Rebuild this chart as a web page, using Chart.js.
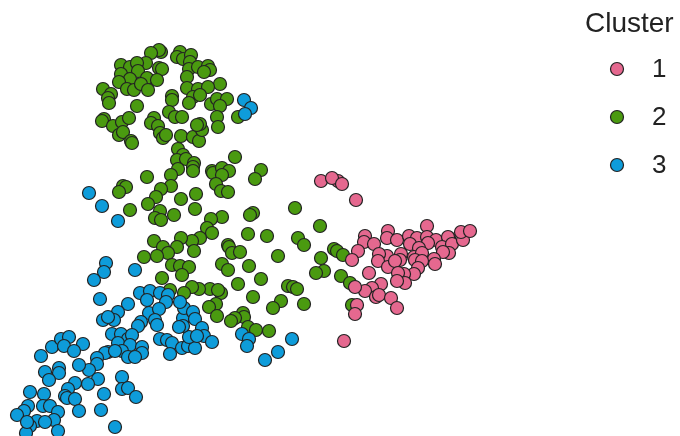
<!DOCTYPE html>
<html><head><meta charset="utf-8">
<style>html,body{margin:0;padding:0;background:#fff}canvas{display:block}</style>
<script src="https://cdn.jsdelivr.net/npm/chart.js@4"></script>
</head><body><canvas id="c" width="680" height="436"></canvas>
<script>
const clusterLabels = ['1','2','3'];
const legendTitle = 'Cluster';
const cluster1 = [[338,181],[321,181],[332,178],[342,184],[356,200],[365,236],[364,242],[374,244],[358,251],[352,260],[388,231],[387,238],[397,240],[409,236],[417,238],[410,244],[427,226],[427,237],[436,240],[428,243],[419,248],[449,238],[448,237],[442,247],[452,244],[463,240],[461,232],[470,231],[449,253],[443,252],[434,259],[435,264],[401,254],[400,260],[387,256],[379,254],[378,261],[388,267],[395,261],[414,257],[422,253],[415,260],[422,261],[418,268],[414,274],[404,274],[398,273],[405,283],[397,281],[369,273],[381,284],[372,288],[365,291],[355,287],[376,297],[379,295],[391,298],[397,308],[357,305],[355,314],[344,341]];
const cluster2 = [[161,52],[159,50],[151,53],[146,63],[121,65],[130,67],[137,63],[159,68],[162,69],[121,74],[138,71],[130,79],[147,78],[157,80],[119,82],[127,89],[134,90],[141,84],[148,90],[103,89],[111,94],[108,98],[109,103],[137,106],[104,119],[102,121],[113,126],[122,122],[129,118],[119,135],[123,132],[131,141],[132,143],[180,52],[177,57],[183,59],[191,55],[190,62],[189,69],[187,77],[198,67],[208,66],[210,70],[204,72],[220,84],[187,88],[198,89],[208,87],[193,97],[189,103],[200,95],[172,96],[172,100],[169,112],[175,117],[182,117],[211,104],[217,99],[227,99],[220,106],[217,117],[218,127],[238,117],[154,118],[151,123],[158,126],[160,133],[163,138],[166,135],[181,136],[193,137],[199,141],[202,130],[200,124],[197,125],[178,149],[183,155],[177,160],[186,159],[194,163],[193,167],[193,171],[178,169],[171,175],[147,177],[171,186],[161,189],[156,197],[148,204],[181,199],[196,194],[195,209],[174,215],[160,211],[155,218],[161,220],[130,210],[123,186],[126,187],[119,192],[235,157],[212,171],[213,173],[222,168],[229,171],[222,175],[216,184],[221,191],[228,192],[261,170],[255,179],[253,213],[250,215],[222,217],[211,219],[207,228],[212,233],[200,238],[192,241],[181,238],[177,247],[194,251],[154,241],[163,247],[168,253],[157,256],[144,257],[172,265],[180,266],[189,267],[182,275],[162,278],[248,234],[267,236],[228,245],[229,247],[232,253],[240,252],[222,264],[228,270],[249,266],[278,256],[261,279],[295,208],[320,226],[298,238],[304,245],[334,249],[337,251],[343,255],[321,258],[324,271],[316,273],[341,276],[350,283],[352,305],[238,284],[253,297],[288,286],[293,287],[297,289],[281,301],[273,308],[304,304],[210,289],[221,293],[218,290],[199,289],[192,287],[184,293],[170,290],[216,304],[209,307],[217,316],[243,313],[244,317],[235,318],[231,321],[248,327],[256,330],[269,331]];
const cluster3 = [[244,100],[251,108],[245,114],[89,193],[102,206],[118,221],[106,263],[104,272],[94,280],[135,270],[100,299],[140,293],[150,291],[147,300],[160,293],[168,295],[166,302],[128,304],[118,312],[103,320],[114,320],[108,317],[149,313],[159,309],[141,322],[138,326],[155,320],[157,325],[83,344],[112,334],[121,334],[128,339],[132,335],[118,343],[130,345],[108,352],[105,353],[122,351],[115,351],[142,347],[142,353],[128,357],[135,357],[97,358],[97,364],[89,370],[79,365],[160,339],[167,340],[172,343],[170,354],[182,348],[188,346],[195,348],[189,337],[183,318],[183,326],[179,327],[184,308],[180,302],[193,312],[195,319],[202,328],[204,336],[197,336],[212,342],[242,334],[249,339],[247,346],[292,339],[278,352],[265,360],[41,356],[52,347],[61,339],[69,337],[64,346],[74,351],[45,372],[59,368],[59,373],[49,380],[30,392],[44,394],[28,406],[24,411],[17,415],[43,406],[50,406],[58,412],[37,421],[54,420],[45,422],[30,426],[26,433],[58,431],[27,422],[98,379],[88,384],[75,383],[68,389],[65,396],[67,398],[75,399],[79,411],[101,410],[104,394],[122,377],[122,389],[128,388],[136,397],[115,427]];
const fillColors = ['#E5688F','#4A9A10','#0E9CDA'];
const rimColor = '#222222';
const toPoints = a => a.map(p => ({x:p[0], y:p[1]}));
const legendPlugin = {
  id:'clusterKey',
  afterDraw(chart){
    const c = chart.ctx; c.save();
    c.fillStyle='#222222'; c.textBaseline='middle'; c.textAlign='left';
    c.font='28px "Liberation Sans", Arial, sans-serif';
    c.fillText(legendTitle,585,24);
    c.font='26px "Liberation Sans", Arial, sans-serif';
    clusterLabels.forEach((t,i)=>{
      const y = 69+48*i;
      c.beginPath(); c.arc(617,y,6.5,0,Math.PI*2);
      c.fillStyle=fillColors[i]; c.fill();
      c.lineWidth=1.2; c.strokeStyle=rimColor; c.stroke();
      c.fillStyle='#222222'; c.fillText(t,652,y+1);
    });
    c.restore();
  }
};
const ds = (label,data,i,order)=>({label,data:toPoints(data),order,backgroundColor:fillColors[i],borderColor:rimColor,borderWidth:1.2,pointRadius:6.5,pointHoverRadius:6.5,clip:false});
new Chart(document.getElementById('c'),{
  type:'scatter',
  data:{datasets:[ds(clusterLabels[0],cluster1,0,1),ds(clusterLabels[1],cluster2,1,3),ds(clusterLabels[2],cluster3,2,2)]},
  plugins:[legendPlugin],
  options:{responsive:false,animation:false,layout:{padding:0,autoPadding:false},
    plugins:{legend:{display:false},tooltip:{enabled:false},title:{display:false}},
    scales:{x:{type:'linear',display:false,min:0,max:680},y:{type:'linear',display:false,min:0,max:436,reverse:true}}}
});
</script></body></html>
